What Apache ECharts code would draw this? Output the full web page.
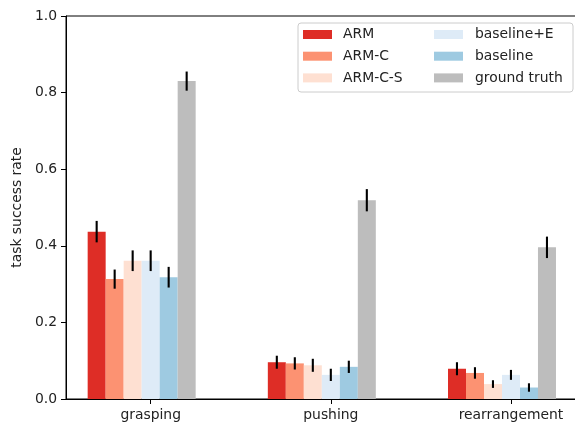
<!DOCTYPE html>
<html>
<head>
<meta charset="utf-8">
<script src="https://cdn.jsdelivr.net/npm/echarts@6/dist/echarts.min.js"></script>
<style>html,body{margin:0;padding:0;background:#fff}#c{width:575px;height:430px}</style>
</head>
<body>
<div id="c"></div>
<script>
const categories = ['grasping', 'pushing', 'rearrangement'];
const seriesNames = ['ARM', 'ARM-C', 'ARM-C-S', 'baseline+E', 'baseline', 'ground truth'];
const armValues = [0.437, 0.096, 0.079];
const armErr = [0.028, 0.017, 0.017];
const armCValues = [0.313, 0.093, 0.068];
const armCErr = [0.025, 0.016, 0.015];
const armCSValues = [0.361, 0.088, 0.039];
const armCSErr = [0.027, 0.017, 0.010];
const baselineEValues = [0.361, 0.063, 0.063];
const baselineEErr = [0.027, 0.016, 0.013];
const baselineValues = [0.318, 0.084, 0.030];
const baselineErr = [0.027, 0.016, 0.011];
const gtValues = [0.830, 0.519, 0.396];
const gtErr = [0.025, 0.029, 0.028];
const yTicks = [0, 0.2, 0.4, 0.6, 0.8, 1.0];

const values = [armValues, armCValues, armCSValues, baselineEValues, baselineValues, gtValues];
const errs = [armErr, armCErr, armCSErr, baselineEErr, baselineErr, gtErr];
const colors = ['#de2d26', '#fc9272', '#fee0d2', '#deebf7', '#9ecae1', '#bdbdbd'];

const BAR_W = 18;
const GROUP_SHIFT = -0.05; // group centre sits half a bar left of the tick
const FONT = 'DejaVu Sans';
const FS = 13.9;

const series = [];
values.forEach((vals, j) => {
  series.push({
    name: seriesNames[j],
    type: 'bar',
    barWidth: BAR_W,
    barGap: '0%',
    itemStyle: { color: colors[j] },
    data: vals.map((v, i) => [i + GROUP_SHIFT, v]),
    z: 2
  });
});
values.forEach((vals, j) => {
  series.push({
    type: 'custom',
    silent: true,
    z: 5,
    data: vals.map((v, i) => [i + GROUP_SHIFT, v, errs[j][i]]),
    renderItem: function (params, api) {
      const x = api.value(0), y = api.value(1), e = api.value(2);
      const lo = api.coord([x, y - e]);
      const hi = api.coord([x, y + e]);
      const off = (j - 2.5) * BAR_W;
      return {
        type: 'line',
        shape: { x1: lo[0] + off, y1: lo[1], x2: hi[0] + off, y2: hi[1] },
        style: { stroke: '#000', lineWidth: 2.1 }
      };
    }
  });
});

const chart = echarts.init(document.getElementById('c'), null, { renderer: 'canvas' });
chart.setOption({
  animation: false,
  backgroundColor: '#fff',
  textStyle: { fontFamily: FONT },
  grid: {
    left: 66, top: 16, width: 512, height: 383,
    containLabel: false, outerBoundsMode: 'none',
    show: true, borderColor: '#000', borderWidth: 1, backgroundColor: 'transparent'
  },
  xAxis: {
    type: 'value',
    min: -0.47, max: 2.372,
    splitLine: { show: false },
    axisLine: { show: true, onZero: false, lineStyle: { color: '#000', width: 1 } },
    axisTick: { show: true, length: 5, lineStyle: { color: '#000' }, customValues: [0, 1, 2] },
    axisLabel: {
      customValues: [0, 1, 2],
      margin: 9,
      color: '#222', fontFamily: FONT, fontSize: FS,
      formatter: v => categories[Math.round(v)]
    }
  },
  yAxis: {
    type: 'value',
    min: 0, max: 1, interval: 0.2,
    name: 'task success rate',
    nameLocation: 'middle',
    nameGap: 38,
    nameTextStyle: { color: '#222', fontFamily: FONT, fontSize: FS },
    splitLine: { show: false },
    axisLine: { show: true, onZero: false, lineStyle: { color: '#000', width: 1 } },
    axisTick: { show: true, length: 5, lineStyle: { color: '#000' } },
    axisLabel: {
      margin: 9,
      color: '#222', fontFamily: FONT, fontSize: FS,
      formatter: v => v.toFixed(1)
    }
  },
  graphic: [{
    type: 'rect',
    z: 10,
    shape: { x: 298, y: 23, width: 275, height: 69, r: 3 },
    style: { fill: 'rgba(255,255,255,0.8)', stroke: '#cccccc', lineWidth: 1 }
  }],
  legend: [
    {
      orient: 'vertical', left: 303, top: 27, padding: 0,
      itemWidth: 29, itemHeight: 9, itemGap: 6.7, z: 20,
      icon: 'rect',
      data: seriesNames.slice(0, 3),
      textStyle: { color: '#222', fontFamily: FONT, fontSize: FS, lineHeight: 15, padding: [0, 0, 0, 6] }
    },
    {
      orient: 'vertical', left: 434, top: 27, padding: 0,
      itemWidth: 29, itemHeight: 9, itemGap: 6.7, z: 20,
      icon: 'rect',
      data: seriesNames.slice(3),
      textStyle: { color: '#222', fontFamily: FONT, fontSize: FS, lineHeight: 15, padding: [0, 0, 0, 7] }
    }
  ],
  series: series
});
</script>
</body>
</html>
